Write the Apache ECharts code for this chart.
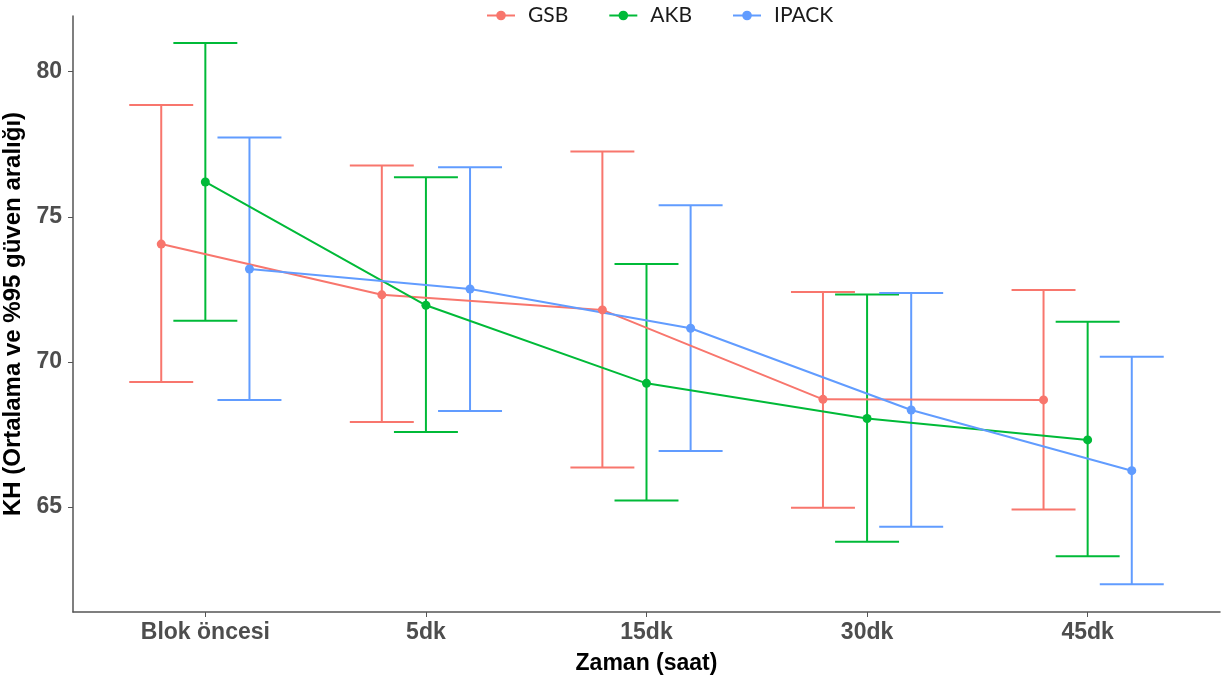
<!DOCTYPE html>
<html>
<head>
<meta charset="utf-8">
<script src="https://cdn.jsdelivr.net/npm/echarts@6/dist/echarts.min.js"></script>
<style>
html,body{margin:0;padding:0;background:#fff;}
#chart{width:1230px;height:678px;}
</style>
</head>
<body>
<div id="chart"></div>
<script>
const categories = ['Blok öncesi', '5dk', '15dk', '30dk', '45dk'];
const yTicks = [65, 70, 75, 80];

const gsbMean = [74.06, 72.31, 71.79, 68.71, 68.69];
const gsbLow  = [69.31, 67.93, 66.36, 64.97, 64.91];
const gsbHigh = [78.85, 76.77, 77.25, 72.41, 72.48];

const akbMean = [76.20, 71.95, 69.26, 68.05, 67.31];
const akbLow  = [71.42, 67.58, 65.22, 63.80, 63.30];
const akbHigh = [80.99, 76.36, 73.37, 72.32, 71.38];

const ipackMean = [73.20, 72.51, 71.16, 68.34, 66.25];
const ipackLow  = [68.69, 68.31, 66.93, 64.32, 62.34];
const ipackHigh = [77.73, 76.71, 75.40, 72.37, 70.18];

const groups = [
  {name: 'GSB', color: '#F8766D', mean: gsbMean, low: gsbLow, high: gsbHigh, dodge: -0.2},
  {name: 'AKB', color: '#00BA38', mean: akbMean, low: akbLow, high: akbHigh, dodge: 0},
  {name: 'IPACK', color: '#619CFF', mean: ipackMean, low: ipackLow, high: ipackHigh, dodge: 0.2}
];

const capHalf = 0.145;

const series = [];
groups.forEach(g => {
  series.push({
    name: g.name + ' CI',
    type: 'custom',
    data: categories.map((c, i) => [i + g.dodge, g.low[i], g.high[i]]),
    encode: {x: 0, y: [1, 2]},
    z: 2,
    silent: true,
    renderItem: function (params, api) {
      const x = api.value(0), lo = api.value(1), hi = api.value(2);
      const pLo = api.coord([x, lo]);
      const pHi = api.coord([x, hi]);
      const cL = api.coord([x - capHalf, hi]);
      const cR = api.coord([x + capHalf, hi]);
      const dL = api.coord([x - capHalf, lo]);
      const dR = api.coord([x + capHalf, lo]);
      const st = {stroke: g.color, lineWidth: 2, fill: null};
      return {
        type: 'group',
        children: [
          {type: 'line', shape: {x1: pLo[0], y1: pLo[1], x2: pHi[0], y2: pHi[1]}, style: st},
          {type: 'line', shape: {x1: cL[0], y1: cL[1], x2: cR[0], y2: cR[1]}, style: st},
          {type: 'line', shape: {x1: dL[0], y1: dL[1], x2: dR[0], y2: dR[1]}, style: st}
        ]
      };
    }
  });
});
groups.forEach(g => {
  series.push({
    name: g.name,
    type: 'line',
    data: categories.map((c, i) => [i + g.dodge, g.mean[i]]),
    symbol: 'circle',
    symbolSize: 9,
    z: 3,
    lineStyle: {color: g.color, width: 2},
    itemStyle: {color: g.color},
    emphasis: {disabled: true},
    animation: false
  });
});

const chart = echarts.init(document.getElementById('chart'), null, {renderer: 'canvas'});
chart.setOption({
  animation: false,
  backgroundColor: '#ffffff',
  color: groups.map(g => g.color),
  legend: {
    data: groups.map(g => g.name),
    top: 0,
    left: 481,
    itemWidth: 28,
    itemHeight: 12,
    itemGap: 40,
    textStyle: {fontFamily: 'Lato', fontSize: 21, color: '#1a1a1a', padding: [0, 0, 0, 8]}
  },
  grid: {left: 73, right: 10, top: 16, bottom: 66, containLabel: false, outerBoundsMode: 'none'},
  xAxis: {
    type: 'value',
    min: -0.6,
    max: 4.6,
    name: 'Zaman (saat)',
    nameLocation: 'middle',
    nameGap: 40,
    nameTextStyle: {fontFamily: 'Liberation Sans', fontWeight: 'bold', fontSize: 23, color: '#000'},
    axisLine: {show: true, onZero: false, lineStyle: {color: '#555', width: 1.5}},
    axisTick: {show: true, customValues: [0, 1, 2, 3, 4], length: 5, lineStyle: {color: '#555'}},
    axisLabel: {
      customValues: [0, 1, 2, 3, 4],
      formatter: v => categories[Math.round(v)],
      fontFamily: 'Liberation Sans', fontWeight: 'bold', fontSize: 23, color: '#4d4d4d', margin: 9
    },
    splitLine: {show: false}
  },
  yAxis: {
    type: 'value',
    min: 61.38,
    max: 81.92,
    name: 'KH (Ortalama ve %95 güven aralığı)',
    nameLocation: 'middle',
    nameGap: 46,
    nameTextStyle: {fontFamily: 'Liberation Sans', fontWeight: 'bold', fontSize: 24, color: '#000'},
    axisLine: {show: true, onZero: false, lineStyle: {color: '#555', width: 1.5}},
    axisTick: {show: true, customValues: yTicks, length: 5, lineStyle: {color: '#555'}},
    axisLabel: {
      customValues: yTicks,
      fontFamily: 'Liberation Sans', fontWeight: 'bold', fontSize: 23, color: '#4d4d4d', margin: 11
    },
    splitLine: {show: false}
  },
  series: series
});
</script>
</body>
</html>
